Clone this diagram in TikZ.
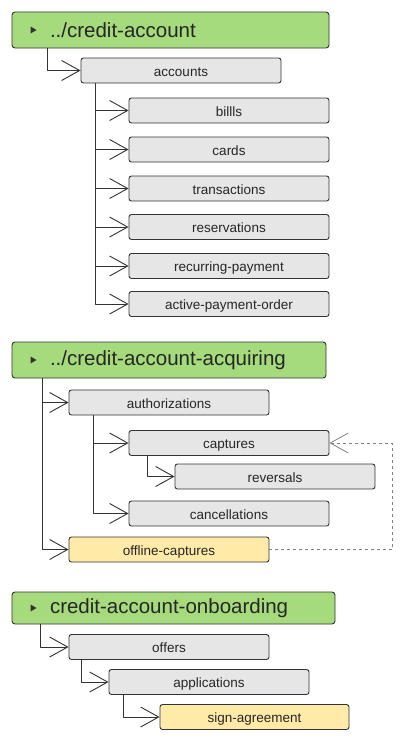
\documentclass[tikz,border=0pt]{standalone}
\usepackage{fontspec}
\setmainfont{Liberation Sans}
\usetikzlibrary{arrows.meta,positioning}
\definecolor{headgreen}{HTML}{A5DB7C}
\definecolor{boxgray}{HTML}{E6E6E6}
\definecolor{boxyellow}{HTML}{FFEAA8}
\definecolor{edgegray}{HTML}{333333}
\tikzset{
  item/.style={draw=edgegray,fill=boxgray,line width=0.9pt,rounded corners=2.5pt,
    minimum width=200pt,minimum height=25pt,inner sep=0pt,text=black!85,
    text height=11pt,text depth=0pt,
    font=\fontsize{13.5}{15}\selectfont},
  leaf/.style={item,fill=boxyellow},
  head/.style={draw=edgegray,fill=headgreen,line width=0.9pt,rounded corners=3pt,
    minimum height=36pt,inner xsep=19pt,inner ysep=0pt,align=left,text=black!85,
    font=\fontsize{20.5}{24}\selectfont},
  link/.style={draw=edgegray,line width=0.9pt,
    -{Straight Barb[length=18pt,width=20pt,line width=0.9pt]}},
  dlink/.style={draw=gray,dashed,line width=0.8pt,
    -{Straight Barb[length=18pt,width=20pt,line width=0.8pt]}},
}
\begin{document}
\begin{tikzpicture}[x=1pt,y=-1pt,line join=round]
\useasboundingbox (0,0) rectangle (407,744);
% credit-account
\node[head,text width=279pt] (ca) at (170.5,30) {\hspace*{19pt}../credit-account};
\node[item] (accounts) at (181,70.5) {accounts};
\foreach \n/\t/\y in {bills/billls/110.5, cards/cards/149.5, trans/transactions/188.5,
    resv/reservations/227, recur/recurring-payment/266, active/active-payment-order/304}
  \node[item] (\n) at (229,\y) {\t};
\draw[link] ([xshift=36]ca.south west) |- (accounts.west);
\foreach \n in {bills,cards,trans,resv,recur,active}
  \draw[link] ([xshift=15]accounts.south west) |- (\n.west);
% credit-account-acquiring
\node[head,text width=276pt] (acq) at (169,360) {\hspace*{19pt}../credit-account-acquiring};
\node[item] (auth) at (169,402.5) {authorizations};
\node[item] (capt) at (229,443) {captures};
\node[item] (revs) at (275,476.5) {reversals};
\node[item] (canc) at (229,513.5) {cancellations};
\node[leaf] (offl) at (169,549.5) {offline-captures};
\draw[link] ([xshift=31]acq.south west) |- (auth.west);
\draw[link] ([xshift=31]acq.south west) |- (offl.west);
\draw[link] ([xshift=25]auth.south west) |- (capt.west);
\draw[link] ([xshift=25]auth.south west) |- (canc.west);
\draw[link] ([xshift=19]capt.south west) |- (revs.west);
\draw[dlink] (offl.east) -- ++(123,0) |- (capt.east);
% credit-account-onboarding
\node[head,text width=285pt,minimum height=32pt] (onb) at (173.5,608) {\hspace*{19pt}credit-account-onboarding};
\node[item] (offers) at (169,647) {offers};
\node[item] (apps) at (209,682) {applications};
\node[leaf,minimum width=189pt] (sign) at (254.5,717) {sign-agreement};
\draw[link] ([xshift=29]onb.south west) |- (offers.west);
\draw[link] ([xshift=13]offers.south west) |- (apps.west);
\draw[link] ([xshift=15]apps.south west) |- (sign.west);
% header markers
\foreach \h in {ca,acq,onb}
  \fill[edgegray] ([xshift=19]\h.west) -- ++(0,-3.5) -- ++(6,3.5) -- ++(-6,3.5) -- cycle;
\end{tikzpicture}
\end{document}
